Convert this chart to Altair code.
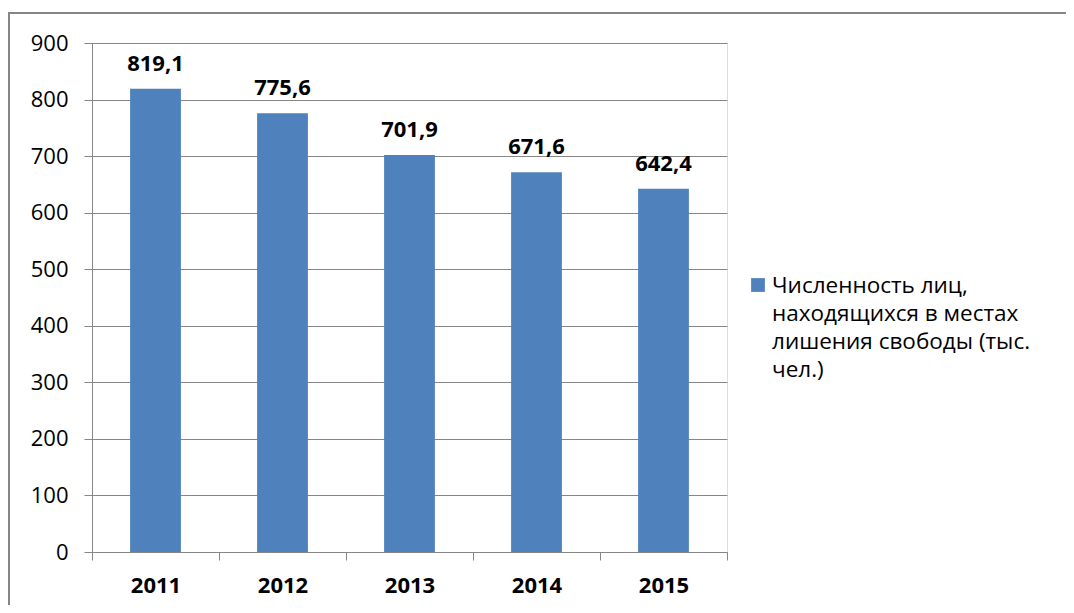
import altair as alt
import pandas as pd

years = ["2011", "2012", "2013", "2014", "2015"]
values = [819.1, 775.6, 701.9, 671.6, 642.4]
y_ticks = [0, 100, 200, 300, 400, 500, 600, 700, 800, 900]
legend_lines = ["Численность лиц,", "находящихся в местах", "лишения свободы (тыс.", "чел.)"]

FONT = "Open Sans"
BLUE = "#4F81BD"
GRAY = "#868686"

df = pd.DataFrame({"year": years, "value": values})

x_enc = alt.X(
    "year:N",
    sort=years,
    scale=alt.Scale(paddingInner=0, paddingOuter=0),
    axis=alt.Axis(
        title=None, grid=False, tickBand="extent", tickSize=8, tickColor=GRAY,
        domainColor=GRAY, labelFont=FONT, labelFontSize=22, labelFontWeight="bold",
        labelColor="black", labelPadding=15, labelAngle=0,
    ),
)
y_enc = alt.Y(
    "value:Q",
    scale=alt.Scale(domain=[0, 900], nice=False),
    axis=alt.Axis(
        title=None, values=y_ticks, grid=True, gridColor=GRAY, gridWidth=1,
        tickSize=8, tickColor=GRAY, domainColor=GRAY, labelFont=FONT,
        labelFontSize=22, labelColor="black", labelPadding=16,
    ),
)

base = alt.Chart(df)

bars = base.mark_bar(color=BLUE, width=alt.RelativeBandSize(0.4)).encode(x=x_enc, y=y_enc)

labels = base.transform_calculate(
    lab="replace(format(datum.value, '.1f'), '.', ',')"
).mark_text(
    font=FONT, fontSize=22, fontWeight="bold", color="black",
    baseline="alphabetic", align="center", dy=-18,
).encode(x=alt.X("year:N", sort=years), y="value:Q", text="lab:N")

one = alt.Data(values=[{}])

border = alt.Chart(one).mark_rect(fill=None, stroke=GRAY, strokeWidth=2).encode(
    x=alt.value(-83), x2=alt.value(1000), y=alt.value(-30), y2=alt.value(600)
)

legend_sq = alt.Chart(one).mark_square(color=BLUE, size=190, opacity=1).encode(
    x=alt.value(666), y=alt.value(242)
)
legend_txt = alt.Chart(one).mark_text(
    text=legend_lines, font=FONT, fontSize=22.5, color="black",
    align="left", baseline="alphabetic", lineHeight=28,
).encode(x=alt.value(680), y=alt.value(250))

chart = alt.layer(border, bars, labels, legend_sq, legend_txt).properties(
    width=635, height=509,
    padding={"left": 84, "top": 35, "right": 339, "bottom": 53},
    autosize=alt.AutoSizeParams(type="none"),
).configure_view(stroke=None).configure(background="white")

chart.save("out.html", embed_options={"renderer": "svg", "actions": False})
